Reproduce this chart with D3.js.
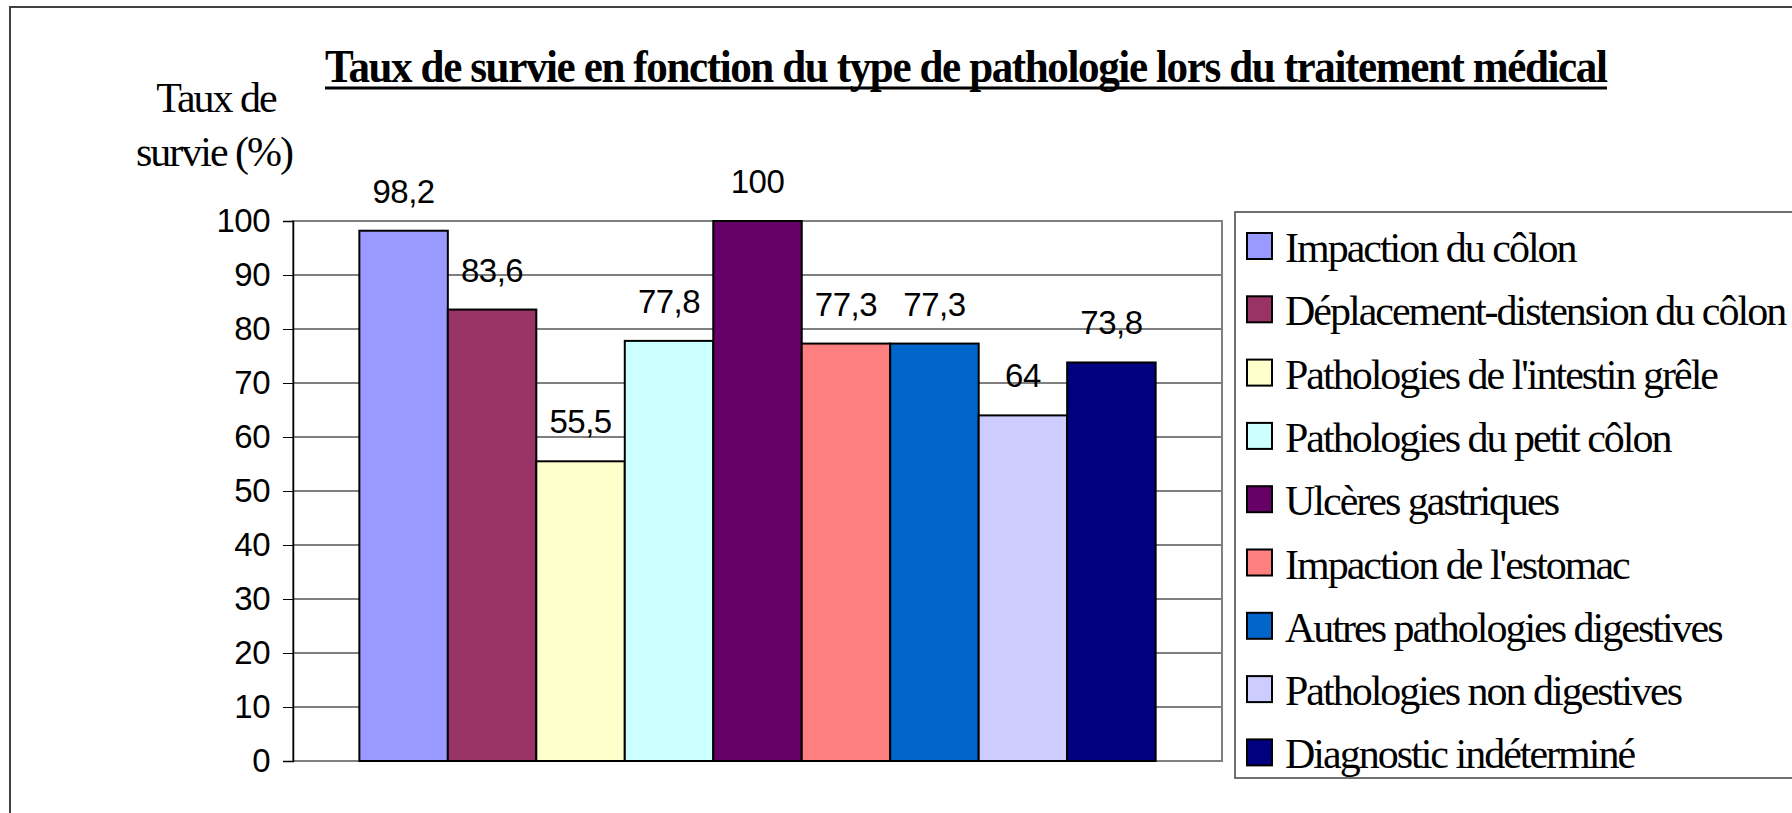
<!DOCTYPE html>
<head>
    <meta charset="utf-8">
    <script src="https://cdn.jsdelivr.net/npm/d3@7"></script>
    <style>
      body { margin: 0; background: #fff; }
      svg { display: block; }
    </style>
</head>

<body>
<div id="chart"></div>

<script>
  var pathologies = [
    "Impaction du côlon",
    "Déplacement-distension du côlon",
    "Pathologies de l'intestin grêle",
    "Pathologies du petit côlon",
    "Ulcères gastriques",
    "Impaction de l'estomac",
    "Autres pathologies digestives",
    "Pathologies non digestives",
    "Diagnostic indéterminé"
  ];
  var survie = [98.2, 83.6, 55.5, 77.8, 100, 77.3, 77.3, 64, 73.8];
  var yTicks = [0, 10, 20, 30, 40, 50, 60, 70, 80, 90, 100];
  var couleurs = ["#9999FF", "#993366", "#FFFFCC", "#CCFFFF", "#660066",
                  "#FF8080", "#0066CC", "#CCCCFF", "#000080"];

  var width = 1792;
  var height = 813;
  var plot = {left: 293, right: 1222, top: 221, bottom: 761};

  var svg = d3.select("#chart").append("svg")
      .attr("width", width)
      .attr("height", height);

  // outer chart border (runs off the right / bottom edge)
  svg.append("rect")
      .attr("x", 10).attr("y", 7)
      .attr("width", width).attr("height", height)
      .attr("fill", "none")
      .attr("stroke", "#404040")
      .attr("stroke-width", 2);

  var y = d3.scaleLinear().domain([0, 100]).range([plot.bottom, plot.top]);
  var x = d3.scaleBand()
      .domain(pathologies)
      .range([plot.left, plot.right])
      .paddingInner(0)
      .paddingOuter(0.75);

  var fmt = function(v) { return String(v).replace(".", ","); };

  // gridlines
  svg.append("g").selectAll("line")
      .data(yTicks.slice(1, -1))
      .enter().append("line")
      .attr("x1", plot.left).attr("x2", plot.right)
      .attr("y1", function(d) { return y(d); })
      .attr("y2", function(d) { return y(d); })
      .attr("stroke", "#000")
      .attr("stroke-width", 1);

  // plot area border
  svg.append("rect")
      .attr("x", plot.left).attr("y", plot.top)
      .attr("width", plot.right - plot.left)
      .attr("height", plot.bottom - plot.top)
      .attr("fill", "none")
      .attr("stroke", "#808080")
      .attr("stroke-width", 2);

  // bars
  svg.append("g").selectAll("rect")
      .data(survie)
      .enter().append("rect")
      .attr("x", function(d, i) { return x(pathologies[i]); })
      .attr("y", function(d) { return y(d); })
      .attr("width", x.bandwidth())
      .attr("height", function(d) { return y(0) - y(d); })
      .attr("fill", function(d, i) { return couleurs[i]; })
      .attr("stroke", "#000")
      .attr("stroke-width", 2);

  // value labels
  svg.append("g").selectAll("text")
      .data(survie)
      .enter().append("text")
      .attr("x", function(d, i) { return x(pathologies[i]) + x.bandwidth() / 2; })
      .attr("y", function(d) { return y(d) - 28; })
      .attr("text-anchor", "middle")
      .style("font", "33px 'Liberation Sans', Arial, sans-serif")
      .style("letter-spacing", "-0.5px")
      .text(function(d) { return fmt(d); });

  // y axis
  var yAxis = svg.append("g")
      .attr("transform", "translate(" + plot.left + ",0)")
      .call(d3.axisLeft(y).tickValues(yTicks).tickSize(10).tickPadding(13));
  yAxis.select(".domain").attr("stroke", "#000").attr("stroke-width", 1.5);
  yAxis.selectAll(".tick line").attr("stroke", "#000");
  yAxis.selectAll(".tick text")
      .style("font", "33px 'Liberation Sans', Arial, sans-serif")
      .style("letter-spacing", "-0.5px")
      .attr("fill", "#000");

  // y axis title
  var yTitle = svg.append("text")
      .attr("text-anchor", "middle")
      .style("font", "42px 'Liberation Serif', 'Times New Roman', serif")
      .style("letter-spacing", "-2px");
  yTitle.append("tspan").attr("x", 216).attr("y", 112).text("Taux de");
  yTitle.append("tspan").attr("x", 214).attr("y", 166).text("survie (%)");

  // title, squeezed horizontally to the reference width
  var titleX = 325, titleW = 1282;
  var title = svg.append("text")
      .attr("x", 0)
      .attr("y", 0)
      .style("font", "bold 46px 'Liberation Serif', 'Times New Roman', serif")
      .style("letter-spacing", "-1.5px")
      .text("Taux de survie en fonction du type de pathologie lors du traitement médical");
  var natural = title.node().getComputedTextLength();
  title.attr("transform", "translate(" + titleX + ",82) scale(" + (titleW / natural) + ",1)");
  svg.append("line")
      .attr("x1", titleX).attr("x2", titleX + titleW)
      .attr("y1", 88).attr("y2", 88)
      .attr("stroke", "#000")
      .attr("stroke-width", 3);

  // legend
  var legend = svg.append("g").attr("transform", "translate(1235,212)");
  legend.append("rect")
      .attr("x", 0).attr("y", 0)
      .attr("width", 600).attr("height", 566)
      .attr("fill", "#fff")
      .attr("stroke", "#404040")
      .attr("stroke-width", 1.5);

  var item = legend.selectAll("g.item")
      .data(pathologies)
      .enter().append("g")
      .attr("class", "item")
      .attr("transform", function(d, i) { return "translate(0," + (34 + i * 63.3) + ")"; });

  item.append("rect")
      .attr("x", 12).attr("y", -13)
      .attr("width", 25).attr("height", 26)
      .attr("fill", function(d, i) { return couleurs[i]; })
      .attr("stroke", "#000")
      .attr("stroke-width", 2);

  item.append("text")
      .attr("x", 50)
      .attr("y", 16)
      .style("font", "42px 'Liberation Serif', 'Times New Roman', serif")
      .style("letter-spacing", "-2px")
      .text(function(d) { return d; });
</script>
</body>
</html>
